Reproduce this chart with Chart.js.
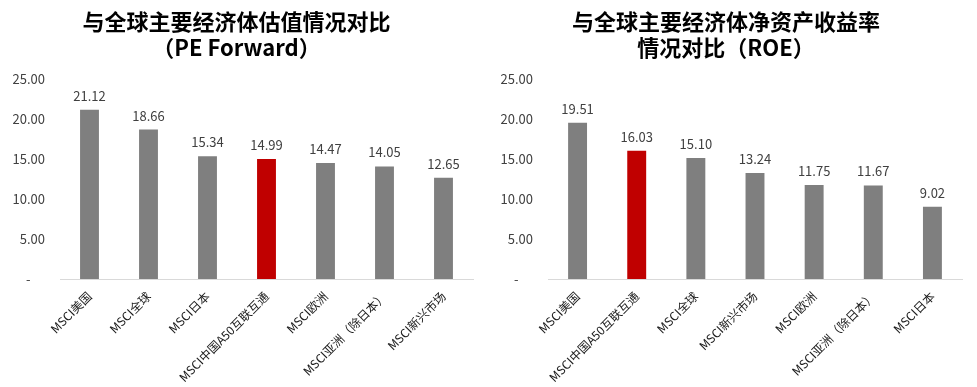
<!DOCTYPE html>
<html>
<head>
<meta charset="utf-8">
<script src="https://cdn.jsdelivr.net/npm/chart.js@4"></script>
<style>
  body { margin: 0; background: #fff; }
  #wrap { position: relative; width: 977px; height: 387px; }
  #peChart { position: absolute; left: 0; top: 0; }
  #roeChart { position: absolute; left: 490px; top: 0; }
</style>
</head>
<body>
<div id="wrap">
  <canvas id="peChart" width="490" height="387"></canvas>
  <canvas id="roeChart" width="487" height="387"></canvas>
</div>
<script>
const peLabels = ['MSCI美国', 'MSCI全球', 'MSCI日本', 'MSCI中国A50互联互通', 'MSCI欧洲', 'MSCI亚洲（除日本）', 'MSCI新兴市场'];
const peValues = [21.12, 18.66, 15.34, 14.99, 14.47, 14.05, 12.65];
const peHighlight = 'MSCI中国A50互联互通';

const roeLabels = ['MSCI美国', 'MSCI中国A50互联互通', 'MSCI全球', 'MSCI新兴市场', 'MSCI欧洲', 'MSCI亚洲（除日本）', 'MSCI日本'];
const roeValues = [19.51, 16.03, 15.10, 13.24, 11.75, 11.67, 9.02];

const yTicks = [0, 5, 10, 15, 20, 25];

const FONT = "'Noto Sans CJK SC', 'Noto Sans', sans-serif";
const GREY = '#7f7f7f';
const RED = '#c00000';

// draws the number above each bar
const valueLabels = {
  id: 'valueLabels',
  afterDatasetsDraw(chart) {
    const ctx = chart.ctx;
    const meta = chart.getDatasetMeta(0);
    const data = chart.data.datasets[0].data;
    ctx.save();
    ctx.font = '13px ' + FONT;
    ctx.fillStyle = '#404040';
    ctx.textAlign = 'center';
    ctx.textBaseline = 'middle';
    meta.data.forEach((bar, i) => {
      ctx.fillText(data[i].toFixed(2), bar.x, bar.y - 14);
    });
    ctx.restore();
  }
};

function makeChart(id, title, labels, values, yWidth, padRight) {
  const colors = labels.map(l => l === peHighlight ? RED : GREY);
  return new Chart(document.getElementById(id), {
    type: 'bar',
    data: {
      labels: labels,
      datasets: [{
        data: values,
        backgroundColor: colors,
        barPercentage: 0.64,
        categoryPercentage: 0.5
      }]
    },
    options: {
      responsive: false,
      animation: false,
      layout: { padding: { left: 0, right: padRight, top: 0, bottom: 0 } },
      plugins: {
        legend: { display: false },
        tooltip: { enabled: false },
        title: {
          display: true,
          text: title,
          color: '#000',
          font: { family: FONT, size: 22, weight: 'bold', lineHeight: 1.2 },
          padding: { top: 8, bottom: 18 }
        }
      },
      scales: {
        x: {
          grid: { display: false },
          border: { display: true, color: '#d9d9d9', width: 1 },
          ticks: {
            color: '#1a1a1a',
            font: { family: FONT, size: 12 },
            minRotation: 45,
            maxRotation: 45,
            autoSkip: false,
            padding: 2
          },
          afterFit(scale) { scale.height = 108; }
        },
        y: {
          min: 0,
          max: 25,
          grid: { display: false },
          border: { display: false },
          afterBuildTicks(scale) { scale.ticks = yTicks.map(v => ({ value: v })); },
          ticks: {
            color: '#404040',
            font: { family: FONT, size: 13 },
            padding: 7,
            // accounting style: zero shown as a dash
            callback: v => v === 0 ? '-\u2007\u2007' : v.toFixed(2)
          },
          afterFit(scale) { scale.width = yWidth; }
        }
      }
    },
    plugins: [valueLabels]
  });
}

makeChart('peChart', ['与全球主要经济体估值情况对比', '（PE Forward）'], peLabels, peValues, 60, 17);
makeChart('roeChart', ['与全球主要经济体净资产收益率', '情况对比（ROE）'], roeLabels, roeValues, 58, 15);
</script>
</body>
</html>
